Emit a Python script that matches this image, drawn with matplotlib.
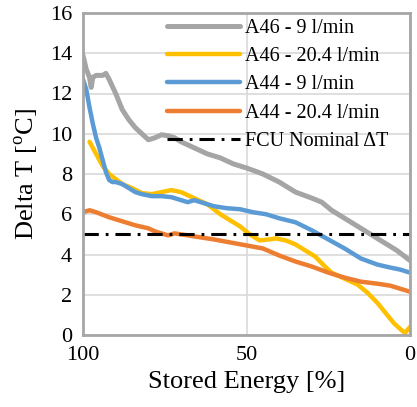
import matplotlib
matplotlib.use("Agg")
import matplotlib.pyplot as plt

plt.rcParams['font.family'] = ['Liberation Serif', 'DejaVu Serif']
plt.rcParams['mathtext.fontset'] = 'custom'
plt.rcParams['mathtext.rm'] = 'Liberation Serif'
plt.rcParams['lines.scale_dashes'] = False

# Stored energy [%] and Delta T [oC]
a46_9_x = [100, 99, 98, 97.5, 97, 96, 94, 93, 92, 90, 88, 86, 84, 82, 80, 78, 76, 74, 72, 70, 66, 62, 58, 54, 50, 45, 40, 35, 30, 27, 24, 20, 14, 8, 4, 0]
a46_9_y = [13.9, 13.2, 12.8, 12.3, 12.8, 12.9, 12.9, 13.0, 12.7, 12.0, 11.2, 10.7, 10.3, 10.0, 9.7, 9.8, 9.95, 9.9, 9.8, 9.6, 9.3, 9.0, 8.8, 8.5, 8.3, 8.0, 7.6, 7.1, 6.8, 6.6, 6.2, 5.8, 5.2, 4.6, 4.2, 3.7]

a46_204_x = [98, 96, 94, 92, 90, 88, 85, 82, 79, 76, 73, 70, 66, 62, 58, 55, 52, 49, 46, 43, 41, 38, 35, 32, 29, 26, 24, 20, 16, 13, 10, 7, 5, 3, 1.5, 0]
a46_204_y = [9.6, 9.0, 8.4, 8.0, 7.75, 7.5, 7.3, 7.05, 7.0, 7.1, 7.2, 7.1, 6.8, 6.5, 6.0, 5.7, 5.4, 5.0, 4.7, 4.75, 4.8, 4.7, 4.5, 4.2, 3.9, 3.4, 3.1, 2.8, 2.5, 2.1, 1.6, 1.0, 0.6, 0.3, 0.1, 0.4]

a44_9_x = [100, 99, 98, 97, 96, 95, 94, 93, 92, 91, 90, 88, 86, 84, 82, 79, 76, 73, 70, 68, 66, 64, 60, 56, 52, 48, 44, 40, 35, 30, 25, 20, 15, 10, 6, 3, 0]
a44_9_y = [12.7, 12.2, 11.3, 10.5, 9.8, 9.3, 8.7, 8.1, 7.7, 7.6, 7.6, 7.5, 7.3, 7.1, 7.0, 6.9, 6.9, 6.85, 6.7, 6.6, 6.7, 6.6, 6.4, 6.3, 6.25, 6.1, 6.0, 5.8, 5.6, 5.2, 4.75, 4.3, 3.8, 3.5, 3.35, 3.25, 3.1]

a44_204_x = [100, 98, 96, 92, 88, 84, 80, 78, 76, 74, 72, 68, 64, 60, 55, 50, 45, 40, 35, 30, 25, 20, 15, 10, 6, 3, 0]
a44_204_y = [6.1, 6.2, 6.1, 5.85, 5.65, 5.45, 5.3, 5.15, 5.05, 4.95, 5.05, 4.95, 4.85, 4.75, 4.6, 4.45, 4.3, 3.95, 3.65, 3.4, 3.1, 2.85, 2.65, 2.55, 2.45, 2.3, 2.15]

nominal_x = [100, 0]
nominal_y = [5, 5]

labels = ['A46 - 9 l/min', 'A46 - 20.4 l/min', 'A44 - 9 l/min', 'A44 - 20.4 l/min', 'FCU Nominal ΔT']
colors = ['#A5A5A5', '#FFC000', '#5B9BD5', '#ED7D31']

fig = plt.figure(figsize=(4.17, 4.07), dpi=100)
ax = fig.add_axes([83/417, 72/407, 327/417, 322/407])

ax.plot(a46_9_x, a46_9_y, color=colors[0], lw=3.6, label=labels[0], solid_capstyle='round', solid_joinstyle='round')
ax.plot(a46_204_x, a46_204_y, color=colors[1], lw=3.2, label=labels[1], solid_capstyle='round', solid_joinstyle='round')
ax.plot(a44_9_x, a44_9_y, color=colors[2], lw=3.2, label=labels[2], solid_capstyle='round', solid_joinstyle='round')
ax.plot(a44_204_x, a44_204_y, color=colors[3], lw=3.2, label=labels[3], solid_capstyle='round', solid_joinstyle='round')
ax.plot(nominal_x, nominal_y, color='black', lw=2.2, linestyle=(0, (11, 5, 2, 5)), label=labels[4])

ax.set_xlim(100, 0)
ax.set_ylim(0, 16)
ax.set_xticks([100, 50, 0])
ax.set_yticks(range(0, 17, 2))
ax.grid(True, color='#D9D9D9', lw=1.2)
ax.set_axisbelow(True)
for s in ax.spines.values():
    s.set_color('#A6A6A6')
    s.set_linewidth(2)
ax.tick_params(length=0, labelsize=16, pad=8)
ax.set_xlabel('Stored Energy [%]', fontsize=19, labelpad=4)
ax.set_ylabel(r'Delta T [$^{\mathrm{o}}$C]', fontsize=19, labelpad=6)

leg = ax.legend(loc='upper left', bbox_to_anchor=(167/417, (407-19)/407),
                bbox_transform=fig.transFigure, frameon=False, fontsize=14.5,
                handlelength=3.6, handletextpad=0.25, labelspacing=0.45,
                borderpad=0, borderaxespad=0)

fig.savefig('out.png', dpi=100)
